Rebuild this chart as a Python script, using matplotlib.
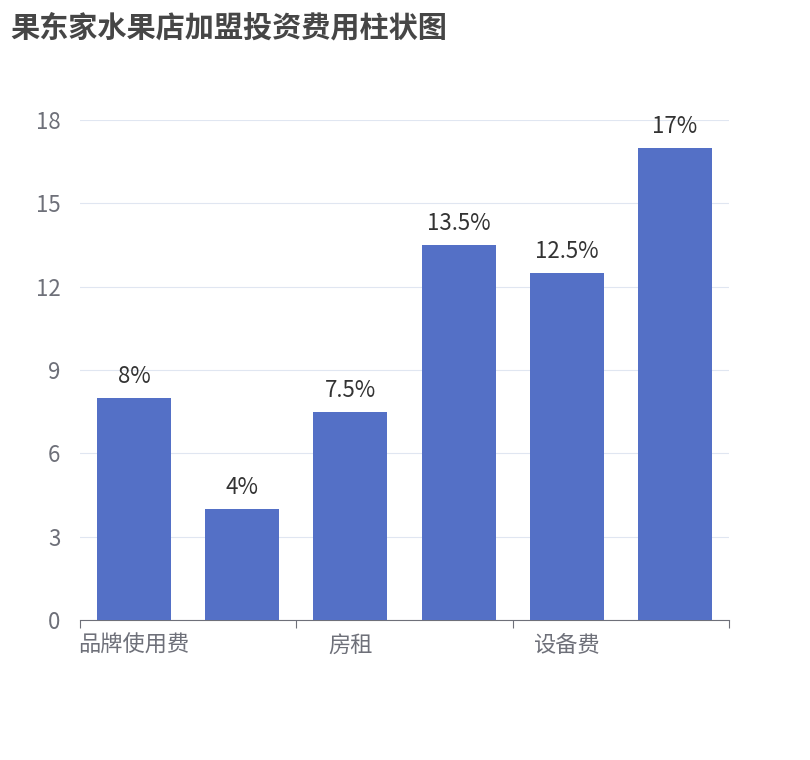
import matplotlib
matplotlib.use("Agg")
import matplotlib.pyplot as plt

plt.rcParams['font.family'] = ['Noto Sans CJK SC', 'DejaVu Sans']

categories = ['品牌使用费', '加盟费', '房租', '装修费', '设备费', '其他']
values = [8, 4, 7.5, 13.5, 12.5, 17]
labels = ['8%', '4%', '7.5%', '13.5%', '12.5%', '17%']
yticks = [0, 3, 6, 9, 12, 15, 18]

fig = plt.figure(figsize=(8.1, 7.6), dpi=100)
ax = fig.add_axes([80/810, 1-620/760, (729-80)/810, 500/760])
x = list(range(len(categories)))
bars = ax.bar(x, values, width=0.685, color='#5470c6', zorder=3)
for b, l in zip(bars, labels):
    ax.text(b.get_x()+b.get_width()/2, b.get_height()+0.35, l, ha='center', va='bottom',
            fontsize=16, color='#333333')
ax.set_xlim(-0.5, len(categories)-0.5)
ax.set_ylim(0, 18)
ax.set_yticks(yticks)
ax.tick_params(axis='y', length=0, labelsize=16, labelcolor='#6e7079', pad=14)
ax.grid(axis='y', color='#e0e6f1', zorder=0)
for s in ['top', 'right', 'left']:
    ax.spines[s].set_visible(False)
ax.spines['bottom'].set_color('#6e7079')
ax.set_xticks([-0.5, 1.5, 3.5, 5.5])
ax.set_xticklabels([])
ax.tick_params(axis='x', length=6, color='#6e7079')
for i in range(0, len(categories), 2):
    ax.text(i, -0.5, categories[i], ha='center', va='top', fontsize=16, color='#6e7079')
fig.text(10/810, 1-27/760, '果东家水果店加盟投资费用柱状图', fontsize=21, fontweight='bold',
         color='#464646', va='center', ha='left')
fig.savefig('out.png')
